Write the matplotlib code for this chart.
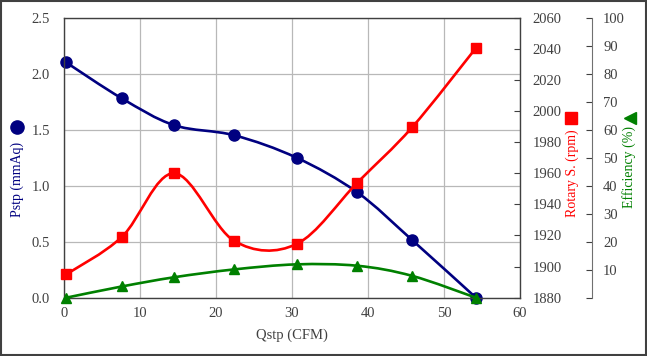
import numpy as np
import matplotlib
matplotlib.use("Agg")
import matplotlib.pyplot as plt
from matplotlib.path import Path
from matplotlib.patches import PathPatch, Rectangle
from matplotlib.lines import Line2D

plt.rcParams['font.family'] = ['Liberation Serif', 'DejaVu Serif']

# values
qstp = [0.3, 7.6, 14.5, 22.4, 30.6, 38.6, 45.8, 54.2]
pstp = [2.10, 1.78, 1.54, 1.45, 1.25, 0.94, 0.515, 0.0]
rpm = [1895, 1919, 1960, 1916.5, 1914.5, 1954, 1989.5, 2040.5]
eff = [0.0, 4.0, 7.3, 10.1, 11.9, 11.4, 7.8, 0.0]

NAVY = '#000080'
RED = '#ff0000'
GREEN = '#008000'
TXT = '#404040'


def smooth_path(x, y):
    """Excel-style smoothed line: cubic Bezier through the points (Catmull-Rom controls)."""
    pts = np.column_stack([x, y]).astype(float)
    n = len(pts)
    verts = [pts[0]]
    codes = [Path.MOVETO]
    for i in range(n - 1):
        p0 = pts[max(i - 1, 0)]
        p1 = pts[i]
        p2 = pts[i + 1]
        p3 = pts[min(i + 2, n - 1)]
        verts += [p1 + (p2 - p0) / 6, p2 - (p3 - p1) / 6, p2]
        codes += [Path.CURVE4] * 3
    return Path(verts, codes)


def draw_series(ax, x, y, color, marker, ms):
    patch = PathPatch(smooth_path(x, y), fill=False, edgecolor=color, lw=1.9,
                      clip_on=False)
    ax.add_patch(patch)
    ax.plot(x, y, linestyle='none', marker=marker, ms=ms, color=color,
            clip_on=False)


fig = plt.figure(figsize=(6.47, 3.56), dpi=100)
ax = fig.add_axes([0.0989, 0.1638, 0.7048, 0.7865])
ax2 = ax.twinx()
ax3 = ax.twinx()

# host axis: Pstp
ax.set_xlim(0, 60)
ax.set_ylim(0, 2.5)
ax.set_xticks(np.arange(0, 61, 10))
ax.set_yticks(np.arange(0, 2.51, 0.5))
ax.set_yticklabels([f'{v:.1f}' for v in np.arange(0, 2.51, 0.5)])
ax.grid(True, color='#b8b8b8', lw=0.9)
ax.set_axisbelow(True)
ax.tick_params(axis='y', length=0, pad=10, labelsize=10.5, labelcolor=TXT)
ax.tick_params(axis='x', length=0, pad=7, labelsize=10.5, labelcolor=TXT)
for s in ax.spines.values():
    s.set_color(TXT)
    s.set_linewidth(1.0)
ax.set_xlabel('Qstp (CFM)', fontsize=10.5, color=TXT, labelpad=6)

# rpm axis
ax2.set_ylim(1880, 2060)
ax2.set_yticks(np.arange(1880, 2061, 20))
ax2.tick_params(axis='y', direction='in', length=4, pad=9, labelsize=10.5,
                labelcolor=TXT, color=TXT)
for s in ax2.spines.values():
    s.set_visible(False)

# efficiency axis
ax3.set_ylim(0, 100)
ax3.set_yticks(np.arange(0, 101, 10))
ax3.set_yticklabels([''] + [str(v) for v in range(10, 101, 10)])
ax3.spines['right'].set_position(('axes', 1.158))
for k, s in ax3.spines.items():
    s.set_visible(k == 'right')
ax3.spines['right'].set_color('#707070')
ax3.tick_params(axis='y', direction='in', length=4, pad=8, labelsize=10.5,
                labelcolor=TXT, color='#404040')

draw_series(ax, qstp, pstp, NAVY, 'o', 8)
draw_series(ax2, qstp, rpm, RED, 's', 7.5)
draw_series(ax3, qstp, eff, GREEN, '^', 7)

# rotated axis titles with their series symbol
fig.text(0.026, 0.497, 'Pstp (mmAq)', rotation=90, ha='center', va='center',
         fontsize=10, color=NAVY)
fig.add_artist(Line2D([0.026], [0.643], marker='o', ms=9.5, color=NAVY,
                      transform=fig.transFigure))
fig.text(0.884, 0.513, 'Rotary S. (rpm)', rotation=90, ha='center', va='center',
         fontsize=10, color=RED)
fig.add_artist(Line2D([0.883], [0.668], marker='s', ms=9, color=RED,
                      transform=fig.transFigure))
fig.text(0.972, 0.532, 'Efficiency (%)', rotation=90, ha='center', va='center',
         fontsize=10, color=GREEN)
fig.add_artist(Line2D([0.973], [0.668], marker='<', ms=8.5, color=GREEN,
                      transform=fig.transFigure))

# outer frame
fig.add_artist(Rectangle((0.001, 0.002), 0.997, 0.995, fill=False,
                         edgecolor='#404040', lw=1.5,
                         transform=fig.transFigure))

fig.savefig('out.png', dpi=100)
